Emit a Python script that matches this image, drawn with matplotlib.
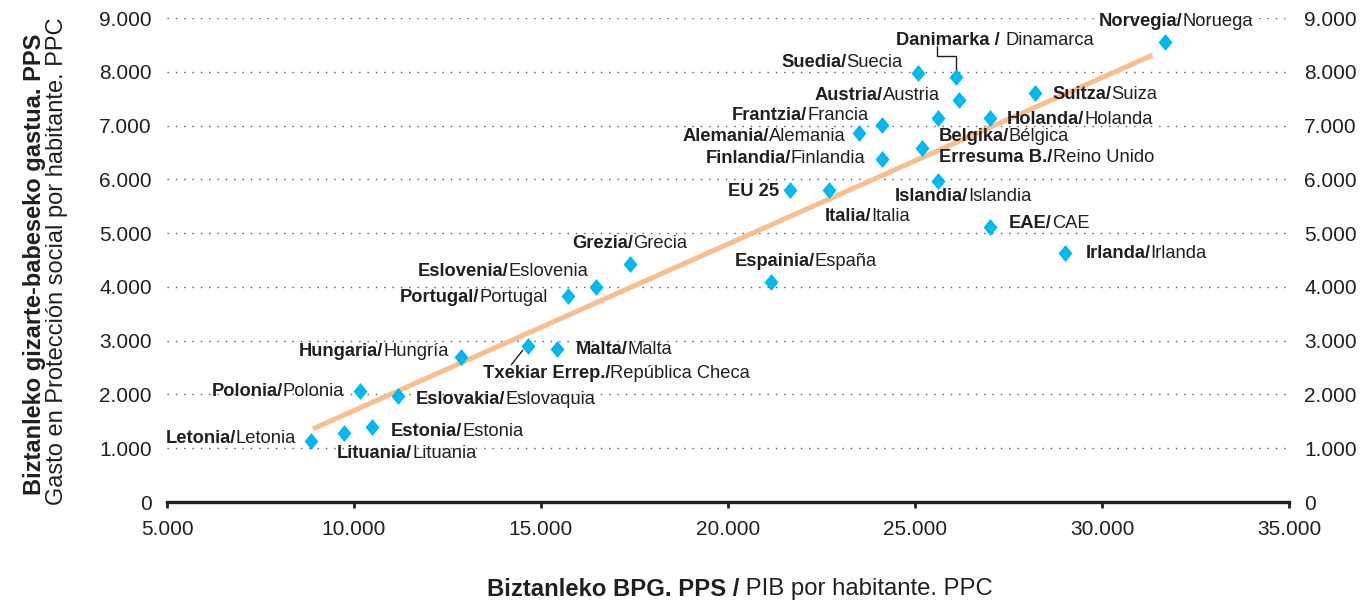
import matplotlib
matplotlib.use("Agg")
from matplotlib import pyplot as plt
from matplotlib import transforms as mtransforms
from matplotlib.ticker import FuncFormatter, MultipleLocator

plt.rcParams["font.family"] = ["Liberation Sans", "DejaVu Sans"]

# data (GDP per head PPS, social protection spending per head PPS)
bold_names = ["Norvegia/", "Danimarka / ", "Suedia/", "Austria/", "Suitza/", "Holanda/",
              "Frantzia/", "Alemania/", "Belgika/", "Finlandia/", "Erresuma B./", "Islandia/",
              "EU 25", "Italia/", "EAE/", "Irlanda/", "Espainia/", "Grezia/", "Eslovenia/",
              "Portugal/", "Hungaria/", "Txekiar Errep./", "Malta/", "Polonia/", "Eslovakia/",
              "Estonia/", "Lituania/", "Letonia/"]
plain_names = ["Noruega", "Dinamarca", "Suecia", "Austria", "Suiza", "Holanda",
               "Francia", "Alemania", "Bélgica", "Finlandia", "Reino Unido", "Islandia",
               "", "Italia", "CAE", "Irlanda", "España", "Grecia", "Eslovenia",
               "Portugal", "Hungría", "República Checa", "Malta", "Polonia", "Eslovaquia",
               "Estonia", "Lituania", "Letonia"]
gdp = [31690, 26100, 25090, 26180, 28210, 27010,
       24130, 23510, 25200, 24130, 25620, 25620,
       21670, 22710, 27010, 29020, 21140, 17390, 16480,
       15710, 12860, 14640, 15440, 10160, 11170,
       10480, 9730, 8850]
spend = [8550, 7900, 7980, 7470, 7600, 7140,
         7010, 6860, 6590, 6380, 7140, 5970,
         5800, 5800, 5110, 4630, 4090, 4430, 3990,
         3830, 2690, 2910, 2850, 2060, 1980,
         1390, 1280, 1130]

trend_x = [8900, 31350]
trend_y = [1360, 8310]

x_ticks = [5000, 10000, 15000, 20000, 25000, 30000, 35000]

# label placement in pixels relative to the point (dx right, dy down), anchored side
label_pos = [(-66, -21, "l"), (-60, -37, "l"), (-16, -10, "r"), (-19, -5, "r"), (17, 1, "l"), (17, 1, "l"),
             (-14, -10, "r"), (-14, 3, "r"), (16, -11, "l"), (-17, 0, "r"), (1, 39, "l"), (-43, 16, "l"),
             (-11, 1, "r"), (-5, 26, "l"), (19, -4, "l"), (20, 0, "l"), (-36, -21, "l"), (-58, -20, "l"),
             (-8, -16, "r"), (-20, 1, "r"), (-12, -6, "r"), (-45, 28, "l"), (18, 1, "l"), (-16, 0, "r"),
             (18, 4, "l"), (19, 4, "l"), (-7, 20, "l"), (-15, -3, "r")]

TXT = "#231F20"
LBL = 13.2

fig = plt.figure(figsize=(13.69, 6.04), dpi=100)
ax = fig.add_axes([167 / 1369, 102 / 604, 1122 / 1369, 484 / 604])

ax.plot(trend_x, trend_y, color="#F9BE8E", lw=3.6, solid_capstyle="butt", zorder=2)
diamond = [(0, 1), (0.82, 0), (0, -1), (-0.82, 0), (0, 1)]
ax.plot(gdp, spend, linestyle="none", marker=diamond, markersize=12.2,
        color="#00B9F1", markeredgewidth=0, zorder=3)

ax.set_xlim(5000, 35000)
ax.set_ylim(0, 9000)
ax.set_xticks(x_ticks)
ax.yaxis.set_major_locator(MultipleLocator(1000))
fmt = FuncFormatter(lambda v, p: f"{v:,.0f}".replace(",", "."))
ax.xaxis.set_major_formatter(fmt)
ax.yaxis.set_major_formatter(fmt)

for y in range(1000, 9001, 1000):
    ax.axhline(y, color="#555555", lw=1, linestyle=(0, (1, 5)), zorder=1)

for s in ["left", "right", "top"]:
    ax.spines[s].set_visible(False)
ax.spines["bottom"].set_linewidth(2.4)
ax.spines["bottom"].set_color(TXT)
ax.tick_params(axis="x", length=4.3, width=2, color=TXT, pad=9, labelsize=15, labelcolor=TXT)
ax.tick_params(axis="y", length=0, pad=11, labelsize=15, labelcolor=TXT,
               labelleft=True, labelright=True)

# point labels: bold name in Basque, regular name in Spanish
for i in range(len(gdp)):
    dx, dy, side = label_pos[i]
    if side == "l":
        a = ax.annotate(bold_names[i], (gdp[i], spend[i]), xytext=(dx, -dy),
                        textcoords="offset pixels", ha="left", va="center",
                        fontsize=LBL, fontweight="bold", color=TXT, zorder=4)
        if plain_names[i]:
            ax.annotate(plain_names[i], (1, 0), xycoords=a, ha="left", va="bottom",
                        fontsize=LBL, color=TXT, zorder=4)
    elif plain_names[i]:
        a = ax.annotate(plain_names[i], (gdp[i], spend[i]), xytext=(dx, -dy),
                        textcoords="offset pixels", ha="right", va="center",
                        fontsize=LBL, color=TXT, zorder=4)
        ax.annotate(bold_names[i], (0, 0), xycoords=a, ha="right", va="bottom",
                    fontsize=LBL, fontweight="bold", color=TXT, zorder=4)
    else:
        ax.annotate(bold_names[i], (gdp[i], spend[i]), xytext=(dx, -dy),
                    textcoords="offset pixels", ha="right", va="center",
                    fontsize=LBL, fontweight="bold", color=TXT, zorder=4)


def leader(i, pts):
    # polyline given in pixels relative to point i, y pointing down
    tr = mtransforms.Affine2D().scale(fig.dpi / 100, -fig.dpi / 100) + \
        mtransforms.ScaledTranslation(gdp[i], spend[i], ax.transData)
    ax.plot([p[0] for p in pts], [p[1] for p in pts], color=TXT, lw=1,
            transform=tr, clip_on=False, zorder=4)


leader(1, [(-19, -31), (-19, -21), (0, -21), (0, -8)])
leader(21, [(-5, 5), (-16, 19)])

# axis titles
fig.text(739 / 1369, 1 - 589 / 604, "Biztanleko BPG. PPS /", ha="right", va="center",
         fontsize=17.2, fontweight="bold", color=TXT)
fig.text(739 / 1369, 1 - 589 / 604, " PIB por habitante. PPC", ha="left", va="center",
         fontsize=17.2, color=TXT)
fig.text(35 / 1369, 1 - 264 / 604, "Biztanleko gizarte-babeseko gastua. PPS", rotation=90,
         ha="center", va="center", fontsize=17, fontweight="bold", color=TXT)
fig.text(57 / 1369, 1 - 261 / 604, "Gasto en Protección social por habitante. PPC", rotation=90,
         ha="center", va="center", fontsize=17, color=TXT)

fig.savefig("out.png", dpi=100)
